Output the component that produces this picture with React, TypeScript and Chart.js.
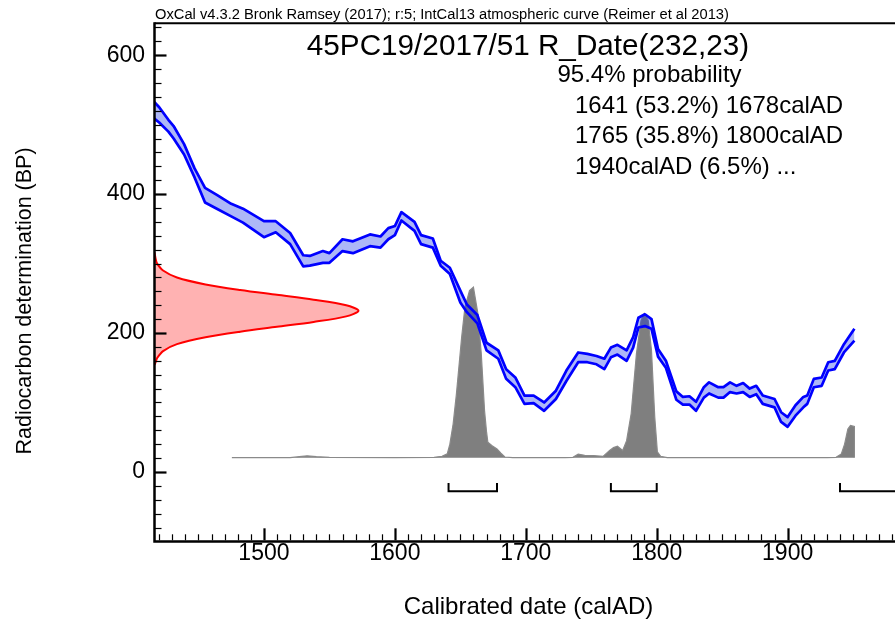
import React, { useEffect, useRef } from 'react';
import { Chart, registerables } from 'chart.js';

Chart.register(...registerables);

// ---- Data ----
const curveYears = [1416, 1420, 1427, 1431, 1439, 1447, 1455, 1464, 1475, 1484, 1500, 1509, 1520, 1530, 1535, 1545, 1550, 1560, 1568, 1581, 1589, 1595, 1600, 1605, 1615, 1620, 1629, 1635, 1642, 1650, 1655, 1663, 1670, 1679, 1685, 1692, 1699, 1706, 1714, 1723, 1731, 1740, 1747, 1754, 1760, 1765, 1770, 1777, 1782, 1786, 1791, 1796, 1801, 1807, 1815, 1820, 1825, 1830, 1836, 1840, 1847, 1851, 1856, 1861, 1866, 1871, 1876, 1881, 1890, 1895, 1900, 1906, 1912, 1915, 1920, 1926, 1931, 1936, 1943, 1951];
const curveUpper = [533, 525, 507, 498, 472, 437, 409, 399, 386, 379, 361, 361, 344, 312, 311, 318, 315, 335, 332, 342, 339, 351, 354, 374, 360, 341, 336, 304, 294, 261, 241, 226, 186, 175, 148, 136, 110, 110, 100, 117, 146, 172, 170, 167, 163, 179, 183, 175, 194, 222, 227, 220, 177, 160, 116, 108, 109, 101, 122, 129, 122, 122, 129, 124, 128, 120, 124, 110, 105, 86, 79, 96, 108, 110, 134, 136, 158, 160, 184, 206];
const curveLower = [509, 503, 490, 480, 457, 424, 388, 379, 368, 359, 338, 345, 328, 296, 297, 301, 301, 318, 315, 325, 323, 335, 341, 362, 347, 328, 323, 297, 285, 244, 230, 214, 175, 163, 134, 122, 98, 99, 88, 105, 131, 158, 158, 155, 148, 165, 169, 160, 179, 208, 210, 206, 166, 150, 104, 97, 97, 88, 107, 113, 107, 107, 115, 113, 115, 108, 112, 98, 93, 72, 65, 81, 93, 98, 122, 124, 146, 148, 172, 189];

// calibrated probability trace (in BP-axis units, drawn above its baseline)
const calYears = [1475.5, 1520, 1527, 1533, 1540, 1550, 1600, 1630, 1636, 1640, 1642, 1644.5, 1647, 1651, 1653.5, 1657, 1660, 1663.5, 1666, 1668.5, 1670, 1671, 1674, 1678, 1681, 1684, 1690, 1730, 1736, 1740, 1745, 1752, 1759, 1764, 1767, 1770, 1774, 1777, 1780.5, 1784.5, 1788, 1790.5, 1793.5, 1796, 1798.5, 1800.5, 1803, 1808, 1930, 1937, 1941, 1943.5, 1946, 1948, 1951, 1951];
const calTrace = [20.6, 20.6, 22, 23.2, 22, 21, 20.6, 21, 22.5, 26, 40, 69, 112, 194, 237, 261, 266, 227, 170, 88, 58, 43, 38, 33, 27, 21.5, 20.6, 20.6, 21, 25.5, 24, 23.5, 22.5, 31, 35, 37, 31, 45, 84, 170, 218, 228, 218, 175, 79, 29, 22.5, 20.6, 20.6, 21, 26, 40, 62, 67, 65.5, 20.6];

// likelihood of the measurement (BP value, relative probability)
const likeBP = [316, 305, 300, 290, 280, 270, 262, 255, 248, 240, 232, 224, 216, 209, 202, 194, 184, 174, 164, 159, 154];
const likeProb = [0, 0.007, 0.013, 0.042, 0.11, 0.25, 0.42, 0.6, 0.78, 0.94, 1.0, 0.94, 0.78, 0.6, 0.42, 0.25, 0.11, 0.042, 0.013, 0.007, 0];

// 95.4% ranges
const rangeFrom = [1641, 1765, 1940];
const rangeTo = [1678, 1800, 2000];

const xTickLabels = [1500, 1600, 1700, 1800, 1900];
const yTickLabels = [0, 200, 400, 600];

const headerText = 'OxCal v4.3.2 Bronk Ramsey (2017); r:5; IntCal13 atmospheric curve (Reimer et al 2013)';
const titleText = '45PC19/2017/51 R_Date(232,23)';
const probHeading = '95.4% probability';
const rangeLines = ['1641 (53.2%) 1678calAD', '1765 (35.8%) 1800calAD', '1940calAD (6.5%) ...'];
const xTitle = 'Calibrated date (calAD)';
const yTitle = 'Radiocarbon determination (BP)';

// ---- Layout constants ----
const X_MIN = 1416.4;
const X_MAX = 1982;
const Y_MIN = -98.4;
const Y_MAX = 645.9;
const CAL_BASE = 20.6;
const LIKE_WIDTH = 155.8; // years for peak of likelihood
const BRACKET_TOP = -15.8;
const BRACKET_BOTTOM = -27.7;
const FONT = '"Liberation Sans", Arial, Helvetica, sans-serif';

const decorPlugin = {
  id: 'oxcalDecor',
  afterDraw(chart: any) {
    const { ctx, chartArea: a, scales } = chart;
    const x = scales.x;
    const y = scales.y;
    ctx.save();
    ctx.strokeStyle = '#000';
    ctx.lineCap = 'butt';
    // y ticks (inward)
    for (let v = Math.ceil(Y_MIN / 20) * 20; v <= Y_MAX; v += 20) {
      const py = Math.round(y.getPixelForValue(v)) + 0.5;
      const major = v % 200 === 0;
      ctx.lineWidth = major ? 2.2 : 1.2;
      ctx.beginPath();
      ctx.moveTo(a.left, py);
      ctx.lineTo(a.left + (major ? 12 : 7), py);
      ctx.stroke();
    }
    // x ticks (inward)
    for (let v = Math.ceil(X_MIN / 10) * 10; v <= X_MAX; v += 10) {
      const px = Math.round(x.getPixelForValue(v)) + 0.5;
      const major = v % 100 === 0;
      ctx.lineWidth = major ? 2.2 : 1.2;
      ctx.beginPath();
      ctx.moveTo(px, a.bottom);
      ctx.lineTo(px, a.bottom - (major ? 12 : 6));
      ctx.stroke();
    }
    // frame
    ctx.lineWidth = 2.5;
    ctx.beginPath();
    ctx.moveTo(a.left, a.top - 1);
    ctx.lineTo(a.left, a.bottom + 1.25);
    ctx.lineTo(a.right, a.bottom + 1.25);
    ctx.stroke();
    ctx.lineWidth = 2;
    ctx.beginPath();
    ctx.moveTo(a.left, a.top);
    ctx.lineTo(a.right, a.top);
    ctx.stroke();

    // texts
    ctx.fillStyle = '#000';
    ctx.textBaseline = 'alphabetic';
    ctx.textAlign = 'left';
    ctx.font = `14.7px ${FONT}`;
    ctx.fillText(headerText, 155, 18.5);

    ctx.font = `29.7px ${FONT}`;
    ctx.textAlign = 'center';
    ctx.fillText(titleText, 528, 55);

    ctx.textAlign = 'left';
    ctx.font = `24px ${FONT}`;
    ctx.fillText(probHeading, 557.5, 82);
    const baselines = [112.5, 143, 174];
    rangeLines.forEach((t, i) => ctx.fillText(t, 575, baselines[i]));

    ctx.textAlign = 'center';
    ctx.font = `24px ${FONT}`;
    ctx.fillText(xTitle, 528.5, 614);

    ctx.save();
    ctx.translate(31, 301);
    ctx.rotate(-Math.PI / 2);
    ctx.font = `21.5px ${FONT}`;
    ctx.fillText(yTitle, 0, 0);
    ctx.restore();

    ctx.restore();
  },
};

export default function App() {
  const ref = useRef<HTMLCanvasElement>(null);

  useEffect(() => {
    document.body.style.margin = '0';
    const canvas = ref.current;
    if (!canvas) return;

    const bracketSets = rangeFrom.map((from, i) => ({
      data: [
        { x: from, y: BRACKET_TOP },
        { x: from, y: BRACKET_BOTTOM },
        { x: rangeTo[i], y: BRACKET_BOTTOM },
        { x: rangeTo[i], y: BRACKET_TOP },
      ],
      borderColor: '#000',
      borderWidth: 2,
      pointRadius: 0,
      fill: false,
      tension: 0,
    }));

    const chart = new Chart(canvas, {
      type: 'line',
      data: {
        datasets: [
          ...bracketSets,
          {
            data: curveYears.map((yr, i) => ({ x: yr, y: curveUpper[i] })),
            borderColor: '#0000ff',
            borderWidth: 2.7,
            borderJoinStyle: 'round',
            pointRadius: 0,
            fill: false,
            tension: 0,
          },
          {
            data: curveYears.map((yr, i) => ({ x: yr, y: curveLower[i] })),
            borderColor: '#0000ff',
            borderWidth: 2.7,
            borderJoinStyle: 'round',
            backgroundColor: 'rgba(0, 30, 230, 0.32)',
            pointRadius: 0,
            fill: '-1',
            tension: 0,
          },
          {
            data: likeBP.map((bp, i) => ({ x: X_MIN + likeProb[i] * LIKE_WIDTH, y: bp })),
            borderColor: '#ff0000',
            borderWidth: 2,
            backgroundColor: 'rgba(255, 0, 0, 0.3)',
            pointRadius: 0,
            fill: 'shape',
            tension: 0.3,
          },
          {
            data: calYears.map((yr, i) => ({ x: yr, y: calTrace[i] })),
            borderColor: '#8a8a8a',
            borderWidth: 1.2,
            backgroundColor: '#7f7f7f',
            pointRadius: 0,
            fill: { value: CAL_BASE },
            tension: 0,
          },
        ],
      },
      options: {
        responsive: false,
        animation: false,
        devicePixelRatio: 1,
        layout: { padding: { top: 21.3, right: 0, bottom: 0, left: 0 } },
        plugins: {
          legend: { display: false },
          tooltip: { enabled: false },
          title: { display: false },
        },
        scales: {
          x: {
            type: 'linear',
            min: X_MIN,
            max: X_MAX,
            grid: { display: false, drawTicks: false },
            border: { display: false },
            afterBuildTicks: (s: any) => {
              s.ticks = xTickLabels.map((v) => ({ value: v }));
            },
            afterFit: (s: any) => {
              s.height = 82.7;
            },
            ticks: {
              padding: 0,
              color: '#000',
              font: { size: 23, family: FONT },
              callback: (v: any) => String(v),
              maxRotation: 0,
              autoSkip: false,
            },
          },
          y: {
            type: 'linear',
            min: Y_MIN,
            max: Y_MAX,
            grid: { display: false, drawTicks: false },
            border: { display: false },
            afterBuildTicks: (s: any) => {
              s.ticks = yTickLabels.map((v) => ({ value: v }));
            },
            afterFit: (s: any) => {
              s.width = 154.5;
            },
            ticks: {
              padding: 9.5,
              color: '#000',
              font: { size: 23, family: FONT },
              callback: (v: any) => String(v),
              autoSkip: false,
            },
          },
        },
      } as any,
      plugins: [decorPlugin],
    });

    return () => chart.destroy();
  }, []);

  return (
    <canvas
      ref={ref}
      width={895}
      height={623}
      style={{ display: 'block', width: 895, height: 623 }}
    />
  );
}
